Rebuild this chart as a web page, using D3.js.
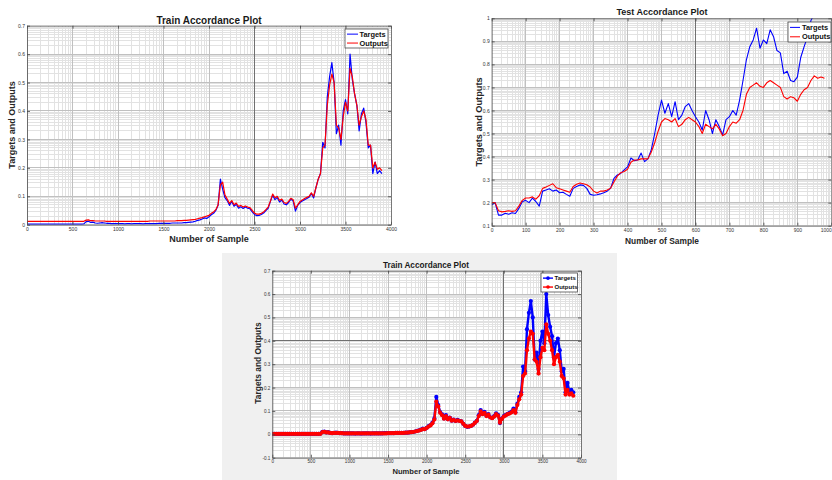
<!DOCTYPE html>
<html>
<head>
<meta charset="utf-8">
<script src="https://cdn.jsdelivr.net/npm/d3@7"></script>
<style>
  html, body { margin: 0; padding: 0; background: #ffffff; }
  svg { display: block; font-family: "Liberation Sans", Arial, sans-serif; }
</style>
</head>
<body>
<svg id="fig" width="832" height="480"></svg>
<script>
// ---- data ---------------------------------------------------------------
// Training set: one value every 25 samples (0 … 3900)
const trainStep = 25;
const trainTargets = [
  0.002,0.002,0.002,0.002,0.002,0.002,0.002,0.002,0.002,0.002,
  0.002,0.002,0.002,0.002,0.002,0.002,0.002,0.002,0.002,0.002,
  0.002,0.002,0.002,0.002,0.002,0.003,
  0.011,0.012,0.008,0.009,0.006,0.005,0.006,0.007,0.006,0.005,0.005,0.004,0.004,0.004,0.004,
  0.004,0.004,0.003,0.004,0.004,0.003,0.004,0.004,0.004,0.004,0.003,0.004,0.004,0.004,0.004,0.004,0.004,0.005,0.005,
  0.005,0.005,0.005,0.005,0.006,0.006,0.006,0.006,0.006,0.007,0.007,0.008,0.009,0.010,0.012,0.015,0.017,0.020,0.024,0.022,
  0.028,0.035,0.040,0.050,0.068,0.160,0.125,0.095,0.085,0.068,0.082,0.065,0.072,0.058,0.063,0.057,0.062,0.058,0.056,0.045,
  0.036,0.032,0.033,0.036,0.041,0.050,0.058,0.082,0.104,0.088,0.096,0.080,0.087,0.073,0.070,0.078,0.090,0.083,0.048,0.068,
  0.078,0.083,0.088,0.092,0.097,0.110,0.094,0.130,0.160,0.180,0.290,0.270,0.450,0.520,0.570,0.500,0.320,0.350,0.280,0.400,
  0.440,0.390,0.600,0.510,0.460,0.420,0.330,0.390,0.410,0.360,0.270,0.280,0.180,0.220,0.180,0.190,0.180
];
const trainOutputs = [
  0.012,0.012,0.012,0.012,0.012,0.012,0.012,0.012,0.012,0.012,
  0.012,0.012,0.012,0.012,0.012,0.012,0.012,0.012,0.012,0.012,
  0.012,0.012,0.012,0.012,0.012,0.012,
  0.016,0.017,0.014,0.014,0.013,0.013,0.013,0.013,0.013,0.012,0.012,0.012,0.012,0.012,0.012,
  0.012,0.012,0.012,0.012,0.012,0.012,0.012,0.012,0.012,0.012,0.012,0.012,0.012,0.013,0.013,0.013,0.013,0.013,0.013,
  0.013,0.013,0.013,0.013,0.013,0.013,0.014,0.014,0.014,0.015,0.015,0.016,0.017,0.018,0.019,0.021,0.023,0.025,0.028,0.030,
  0.033,0.040,0.045,0.053,0.070,0.140,0.150,0.105,0.090,0.075,0.085,0.070,0.076,0.064,0.068,0.062,0.066,0.062,0.060,0.050,
  0.041,0.037,0.037,0.040,0.045,0.053,0.062,0.083,0.108,0.095,0.100,0.086,0.090,0.078,0.075,0.082,0.093,0.088,0.058,0.070,
  0.082,0.087,0.092,0.096,0.100,0.112,0.100,0.130,0.160,0.180,0.270,0.280,0.420,0.490,0.530,0.500,0.350,0.340,0.300,0.380,
  0.430,0.400,0.550,0.520,0.460,0.420,0.350,0.380,0.400,0.370,0.280,0.280,0.200,0.220,0.195,0.200,0.190
];
const trainOutputsFit = [
  0.002,0.002,0.002,0.002,0.002,0.002,0.002,0.002,0.002,0.002,
  0.002,0.002,0.002,0.002,0.002,0.002,0.002,0.002,0.002,0.002,
  0.002,0.002,0.002,0.002,0.002,0.002,
  0.010,0.011,0.008,0.008,0.006,0.005,0.006,0.006,0.006,0.005,0.005,0.004,0.004,0.004,0.004,
  0.004,0.004,0.004,0.004,0.004,0.004,0.004,0.004,0.004,0.004,0.004,0.004,0.004,0.004,0.004,0.004,0.004,0.004,0.004,
  0.005,0.005,0.005,0.005,0.006,0.006,0.006,0.006,0.006,0.007,0.007,0.008,0.009,0.010,0.012,0.014,0.016,0.019,0.022,0.022,
  0.027,0.033,0.038,0.047,0.063,0.140,0.120,0.092,0.082,0.067,0.078,0.064,0.070,0.058,0.062,0.057,0.060,0.057,0.055,0.045,
  0.036,0.033,0.034,0.036,0.041,0.049,0.057,0.078,0.098,0.086,0.092,0.078,0.084,0.072,0.069,0.076,0.086,0.080,0.050,0.066,
  0.076,0.081,0.086,0.089,0.094,0.104,0.092,0.125,0.150,0.170,0.250,0.260,0.360,0.410,0.440,0.430,0.320,0.310,0.260,0.330,
  0.370,0.360,0.470,0.430,0.400,0.360,0.300,0.330,0.340,0.310,0.250,0.240,0.170,0.190,0.170,0.175,0.165
];

// Test set: one value every 10 samples (0 … 980)
const testStep = 10;
const testTargets = [
  0.190,0.200,0.146,0.146,0.154,0.150,0.156,0.153,0.175,0.204,
  0.210,0.200,0.220,0.205,0.185,0.250,0.255,0.260,0.250,0.255,
  0.243,0.245,0.236,0.228,0.262,0.270,0.277,0.275,0.262,0.236,
  0.232,0.234,0.238,0.243,0.250,0.262,0.305,0.320,0.327,0.342,
  0.355,0.394,0.382,0.385,0.415,0.378,0.390,0.430,0.500,0.580,
  0.645,0.588,0.630,0.573,0.638,0.560,0.580,0.617,0.630,0.600,
  0.573,0.550,0.515,0.600,0.560,0.500,0.560,0.530,0.494,0.560,
  0.573,0.600,0.580,0.645,0.730,0.820,0.877,0.906,0.957,0.870,
  0.906,0.890,0.950,0.920,0.860,0.850,0.760,0.770,0.730,0.725,
  0.745,0.830,0.877,0.920,0.990,1.020,1.040,1.030,1.050
];
const testOutputs = [
  0.200,0.200,0.165,0.160,0.162,0.165,0.162,0.165,0.185,0.210,
  0.220,0.220,0.225,0.215,0.230,0.262,0.268,0.275,0.282,0.265,
  0.260,0.255,0.250,0.245,0.270,0.280,0.285,0.282,0.278,0.268,
  0.250,0.242,0.250,0.250,0.255,0.262,0.290,0.315,0.330,0.335,
  0.345,0.375,0.385,0.385,0.390,0.390,0.390,0.420,0.460,0.510,
  0.550,0.565,0.560,0.550,0.565,0.530,0.540,0.560,0.570,0.560,
  0.550,0.530,0.500,0.540,0.530,0.520,0.540,0.520,0.490,0.500,
  0.530,0.550,0.545,0.560,0.600,0.670,0.700,0.710,0.720,0.705,
  0.700,0.720,0.730,0.720,0.710,0.700,0.660,0.650,0.660,0.655,
  0.640,0.670,0.690,0.700,0.730,0.750,0.740,0.745,0.740
];

// Axis ticks and labels
const trainXTicks = [0, 500, 1000, 1500, 2000, 2500, 3000, 3500, 4000];
const trainYTicks = [0, 0.1, 0.2, 0.3, 0.4, 0.5, 0.6, 0.7];
const fitYTicks = [-0.1, 0, 0.1, 0.2, 0.3, 0.4, 0.5, 0.6, 0.7];
const testXTicks = [0, 100, 200, 300, 400, 500, 600, 700, 800, 900, 1000];
const testYTicks = [0.1, 0.2, 0.3, 0.4, 0.5, 0.6, 0.7, 0.8, 0.9, 1];
const seriesNames = ["Targets", "Outputs"];
const panelTitles = ["Train Accordance Plot", "Test Accordance Plot", "Train Accordance Plot"];
const xAxisLabel = "Number of Sample";
const yAxisLabel = "Targets and Outputs";

// ---- drawing ------------------------------------------------------------
const svg = d3.select("#fig");
const BLUE = "#0000ff", RED = "#ff0000";
const fmt = v => String(+v.toFixed(2));

// MATLAB-style minor grid: log-spaced lines inside every major interval
function minorValues(ticks) {
  const out = [];
  for (let i = 0; i < ticks.length - 1; i++) {
    const a = ticks[i], d = ticks[i + 1] - a;
    for (let k = 2; k <= 9; k++) out.push(a + d * Math.log10(k));
  }
  return out;
}

function drawPanel(p) {
  const g = svg.append("g");
  if (p.figBg) {
    g.append("rect").attr("x", p.figBg[0]).attr("y", p.figBg[1])
      .attr("width", p.figBg[2]).attr("height", p.figBg[3]).attr("fill", "#f0f0f0");
  }
  const x = d3.scaleLinear().domain(p.xDomain).range([p.left, p.right]);
  const y = d3.scaleLinear().domain(p.yDomain).range([p.bottom, p.top]);

  g.append("rect").attr("x", p.left).attr("y", p.top)
    .attr("width", p.right - p.left).attr("height", p.bottom - p.top).attr("fill", "#fff");

  const clipId = "clip" + p.id;
  svg.append("defs").append("clipPath").attr("id", clipId).append("rect")
    .attr("x", p.left).attr("y", p.top)
    .attr("width", p.right - p.left).attr("height", p.bottom - p.top);
  const plot = g.append("g").attr("clip-path", `url(#${clipId})`);

  const grid = plot.append("g").attr("shape-rendering", "crispEdges");
  const vLines = (vals, color) => grid.selectAll(null).data(vals).enter().append("line")
    .attr("x1", d => x(d)).attr("x2", d => x(d)).attr("y1", p.top).attr("y2", p.bottom)
    .attr("stroke", color).attr("stroke-width", 1);
  const hLines = (vals, color) => grid.selectAll(null).data(vals).enter().append("line")
    .attr("y1", d => y(d)).attr("y2", d => y(d)).attr("x1", p.left).attr("x2", p.right)
    .attr("stroke", color).attr("stroke-width", 1);
  vLines(minorValues(p.xTicks), "#e2e2e2");
  hLines(minorValues(p.yTicks), "#e2e2e2");
  vLines(p.xTicks, "#c0c0c0");
  hLines(p.yTicks, "#c0c0c0");
  vLines(p.darkX, "#707070");
  hLines(p.darkY, "#707070");

  const line = d3.line().x((d, i) => x(i * p.step)).y(d => y(d));
  const series = [[p.targets, BLUE], [p.outputs, RED]];
  series.forEach(([vals, color]) => {
    plot.append("path").datum(vals).attr("d", line)
      .attr("fill", "none").attr("stroke", color)
      .attr("stroke-width", p.lineWidth).attr("stroke-linejoin", "round");
    if (p.marker) {
      plot.selectAll(null).data(vals).enter().append("circle")
        .attr("cx", (d, i) => x(i * p.step)).attr("cy", d => y(d))
        .attr("r", 2.1).attr("fill", color);
    }
  });

  // axes with inward ticks on all four sides
  const styleAxis = a => {
    a.attr("font-size", p.tickSize).attr("font-family", "'Liberation Sans', Arial, sans-serif");
    a.selectAll("text").attr("fill", "#333");
    a.selectAll("line").attr("stroke", "#444").attr("stroke-width", 0.8);
    a.select(".domain").attr("stroke", "#555").attr("stroke-width", 0.8);
  };
  const bottomAxis = g.append("g").attr("transform", `translate(0,${p.bottom})`)
    .call(d3.axisBottom(x).tickValues(p.xTicks).tickFormat(fmt)
      .tickSizeInner(-3).tickSizeOuter(0).tickPadding(p.xPad)).call(styleAxis);
  if (p.lastXLabelEnd) {
    bottomAxis.selectAll(".tick text").filter(d => d === p.xDomain[1]).attr("text-anchor", "end");
  }
  g.append("g").attr("transform", `translate(0,${p.top})`)
    .call(d3.axisTop(x).tickValues(p.xTicks).tickFormat(() => "")
      .tickSizeInner(-3).tickSizeOuter(0)).call(styleAxis);
  g.append("g").attr("transform", `translate(${p.left},0)`)
    .call(d3.axisLeft(y).tickValues(p.yTicks).tickFormat(fmt)
      .tickSizeInner(-3).tickSizeOuter(0).tickPadding(p.yPad)).call(styleAxis);
  g.append("g").attr("transform", `translate(${p.right},0)`)
    .call(d3.axisRight(y).tickValues(p.yTicks).tickFormat(() => "")
      .tickSizeInner(-3).tickSizeOuter(0)).call(styleAxis);

  // titles and axis labels
  g.append("text").attr("x", p.titleX).attr("y", p.titleY).attr("text-anchor", "middle")
    .attr("font-weight", "bold").attr("font-size", p.titleSize).attr("fill", "#1a1a1a").text(p.title);
  g.append("text").attr("x", p.titleX).attr("y", p.xLabY).attr("text-anchor", "middle")
    .attr("font-weight", "bold").attr("font-size", p.labSize).attr("fill", "#262626").text(xAxisLabel);
  g.append("text").attr("transform", `translate(${p.yLabX},${p.yLabY}) rotate(-90)`)
    .attr("text-anchor", "middle").attr("font-weight", "bold").attr("font-size", p.yLabSize)
    .attr("fill", "#262626").text(yAxisLabel);

  // legend
  const L = p.legend;
  const lg = g.append("g");
  lg.append("rect").attr("x", L.x).attr("y", L.y).attr("width", L.w).attr("height", L.h)
    .attr("fill", "#fff").attr("stroke", "#333").attr("stroke-width", 0.7);
  seriesNames.forEach((name, i) => {
    const cy = L.y + L.h * (i === 0 ? 0.27 : 0.74);
    const color = i === 0 ? BLUE : RED;
    lg.append("line").attr("x1", L.x + L.lx0).attr("x2", L.x + L.lx1).attr("y1", cy).attr("y2", cy)
      .attr("stroke", color).attr("stroke-width", p.marker ? 1.4 : 1);
    if (p.marker) {
      lg.append("circle").attr("cx", L.x + (L.lx0 + L.lx1) / 2).attr("cy", cy).attr("r", 1.8).attr("fill", color);
    }
    lg.append("text").attr("x", L.x + L.tx).attr("y", cy + L.fs * 0.36)
      .attr("font-size", L.fs).attr("font-weight", "bold").attr("fill", "#111").text(name);
  });
}

const panels = [
  { id: 1, left: 27, right: 391, top: 25.7, bottom: 224.7,
    xDomain: [0, 4000], yDomain: [0, 0.7], xTicks: trainXTicks, yTicks: trainYTicks,
    darkX: [2500], darkY: [],
    targets: trainTargets, outputs: trainOutputs, step: trainStep, marker: false, lineWidth: 1.2,
    tickSize: 5, xPad: 2.6, yPad: 2,
    title: panelTitles[0], titleX: 209, titleY: 24, titleSize: 10,
    xLabY: 242, labSize: 9, yLabX: 14.5, yLabY: 125, yLabSize: 9,
    legend: { x: 345, y: 29, w: 43, h: 19, lx0: 2, lx1: 13, tx: 14.5, fs: 7.4 } },
  { id: 2, left: 491.7, right: 831.3, top: 18.3, bottom: 225.7,
    xDomain: [0, 1000], yDomain: [0.1, 1], xTicks: testXTicks, yTicks: testYTicks,
    darkX: [600], darkY: [], lastXLabelEnd: true,
    targets: testTargets, outputs: testOutputs, step: testStep, marker: false, lineWidth: 1.1,
    tickSize: 5, xPad: 2.6, yPad: 2,
    title: panelTitles[1], titleX: 662, titleY: 14.5, titleSize: 9,
    xLabY: 244, labSize: 8.4, yLabX: 481.7, yLabY: 122, yLabSize: 9.2,
    legend: { x: 788, y: 22, w: 43, h: 20, lx0: 2, lx1: 12, tx: 14, fs: 7.4 } },
  { id: 3, left: 272.3, right: 581, top: 270.7, bottom: 457.7,
    xDomain: [0, 4000], yDomain: [-0.1, 0.7], xTicks: trainXTicks, yTicks: fitYTicks,
    darkX: [3000], darkY: [0.4], figBg: [222, 253, 395, 227],
    targets: trainTargets, outputs: trainOutputsFit, step: trainStep, marker: true, lineWidth: 2.4,
    tickSize: 4.6, xPad: 2.4, yPad: 2,
    title: panelTitles[2], titleX: 426, titleY: 267.5, titleSize: 8.2,
    xLabY: 474, labSize: 7.6, yLabX: 261.3, yLabY: 363, yLabSize: 8.4,
    legend: { x: 541, y: 273, w: 36.5, h: 19, lx0: 2, lx1: 12, tx: 13.5, fs: 6 } }
];

panels.forEach(drawPanel);
</script>
</body>
</html>
